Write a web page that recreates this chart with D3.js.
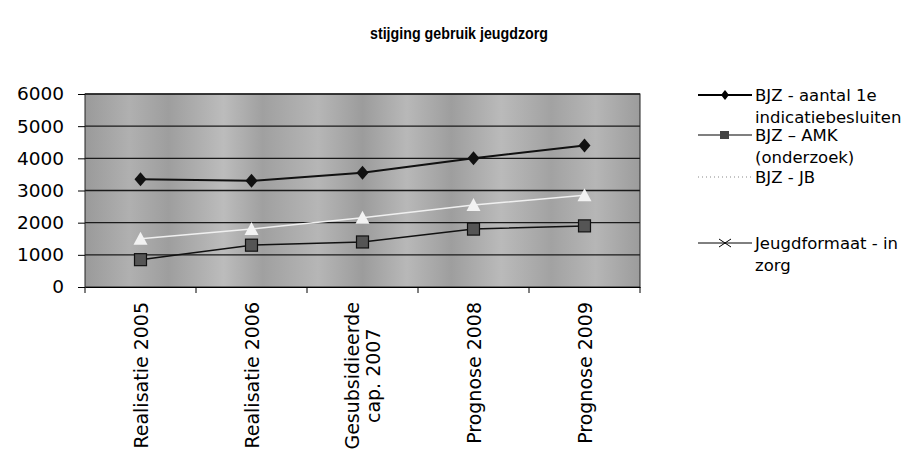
<!DOCTYPE html>
<html><head><meta charset="utf-8">
<script src="https://cdn.jsdelivr.net/npm/d3@7"></script>
<style>body{margin:0;background:#fff}svg{display:block}</style>
</head><body>
<svg id="c" width="916" height="467"></svg>
<script>
const categories = [["Realisatie 2005"],["Realisatie 2006"],["Gesubsidieerde","cap. 2007"],["Prognose 2008"],["Prognose 2009"]];
const bjzAantal = [3350, 3300, 3550, 4000, 4400];
const bjzAmk = [850, 1300, 1400, 1800, 1900];
const bjzJb = [1500, 1800, 2150, 2550, 2850];
const jeugdformaat = [];
const yTicks = [0,1000,2000,3000,4000,5000,6000];
const legendLabels = [["BJZ - aantal  1e","indicatiebesluiten"],["BJZ – AMK","(onderzoek)"],["BJZ - JB"],["Jeugdformaat - in","zorg"]];

const svg = d3.select("#c");
const font = "Liberation Sans, Arial, sans-serif";
const font2 = "DejaVu Sans, sans-serif";
const L=85,R=640,T=94,B=287;
const x = d3.scaleBand().domain(d3.range(categories.length)).range([L,R]);
const y = d3.scaleLinear().domain([0,6000]).range([B,T]);

svg.append("text").attr("x",459).attr("y",39).attr("text-anchor","middle")
  .attr("font-family",font).attr("font-weight","bold").attr("font-size",16)
  .attr("textLength",178).attr("lengthAdjust","spacingAndGlyphs").text("stijging gebruik jeugdzorg");

// plot background
const defs = svg.append("defs");
const g = defs.append("linearGradient").attr("id","bg").attr("x1","0").attr("x2","1").attr("y1","0").attr("y2","0");
const stops=[[0,"#9a9a9a"],[0.08,"#b0b0b0"],[0.15,"#9e9e9e"],[0.25,"#bcbcbc"],[0.32,"#a0a0a0"],[0.42,"#b6b6b6"],[0.5,"#9c9c9c"],[0.58,"#b8b8b8"],[0.66,"#9e9e9e"],[0.75,"#bababa"],[0.84,"#a2a2a2"],[0.92,"#b6b6b6"],[1,"#9c9c9c"]];
stops.forEach(s=>g.append("stop").attr("offset",s[0]).attr("stop-color",s[1]));
svg.append("rect").attr("x",L).attr("y",T).attr("width",R-L).attr("height",B-T).attr("fill","url(#bg)");

// gridlines
svg.append("g").selectAll("line").data(yTicks.slice(1)).join("line")
  .attr("x1",L).attr("x2",R).attr("y1",d=>y(d)).attr("y2",d=>y(d))
  .attr("stroke","#1a1a1a").attr("stroke-width",1.3);
svg.append("rect").attr("x",L).attr("y",T).attr("width",R-L).attr("height",B-T)
  .attr("fill","none").attr("stroke","#222").attr("stroke-width",1);

// axes
const ya = svg.append("g").attr("transform",`translate(${L},0)`)
  .call(d3.axisLeft(y).tickValues(yTicks).tickFormat(d3.format("d")).tickSize(7).tickPadding(14));
ya.select(".domain").remove();
ya.selectAll("text").attr("font-family",font2).attr("font-size",18.5).attr("fill","#000");
ya.selectAll("line").attr("stroke","#000");

const xa = svg.append("g").attr("transform",`translate(0,${B})`)
  .call(d3.axisBottom(x).tickValues([]).tickSizeOuter(0));
xa.select(".domain").attr("stroke","#000");
const edges = d3.range(categories.length+1).map(i=>L+i*x.step());
svg.append("g").selectAll("line").data(edges).join("line")
  .attr("x1",d=>d).attr("x2",d=>d).attr("y1",B).attr("y2",B+6).attr("stroke","#000");

const xl = svg.append("g");
categories.forEach((lines,i)=>{
  const cx = x(i)+x.bandwidth()/2;
  const t = xl.append("text").attr("transform",`translate(${cx},${B+15}) rotate(-90)`)
    .attr("text-anchor",lines.length>1?"middle":"end").attr("font-family",font2).attr("font-size",19);
  lines.forEach((ln,j)=>{
    const off = (j-(lines.length-1)/2)*21+7;
    t.append("tspan").attr("y",off).text(ln);
  });
  if(lines.length>1){
    const w = d3.max(t.selectAll("tspan").nodes(),n=>n.getComputedTextLength());
    t.selectAll("tspan").attr("x",-w/2);
  }
});

// series
const cxp = i=>x(i)+x.bandwidth()/2;
const line = d3.line().x((d,i)=>cxp(i)).y(d=>y(d));
function drawSeries(data,color,width,marker){
  svg.append("path").datum(data).attr("d",line).attr("fill","none").attr("stroke",color).attr("stroke-width",width);
  const gg = svg.append("g");
  data.forEach((v,i)=>marker(gg,cxp(i),y(v)));
}
const diamond=(gg,cx,cy)=>gg.append("path").attr("d",`M${cx},${cy-7}L${cx+6},${cy}L${cx},${cy+7}L${cx-6},${cy}Z`).attr("fill","#111");
const square=(gg,cx,cy)=>gg.append("rect").attr("x",cx-6).attr("y",cy-6).attr("width",12).attr("height",12).attr("fill","#555").attr("stroke","#111").attr("stroke-width",1.2);
const tri=(gg,cx,cy)=>gg.append("path").attr("d",`M${cx},${cy-7}L${cx+7},${cy+6}L${cx-7},${cy+6}Z`).attr("fill","#f2f2f2");
drawSeries(bjzJb,"#f0f0f0",1.5,tri);
drawSeries(bjzAmk,"#111",1.5,square);
drawSeries(bjzAantal,"#111",2,diamond);

// legend
const lg = svg.append("g").attr("font-family",font2).attr("font-size",16.5);
const ly=[95,135,177,243];
ly.forEach((yy,i)=>{
  legendLabels[i].forEach((t,j)=>lg.append("text").attr("x",755).attr("y",yy+6+j*22).text(t));
});
lg.append("line").attr("x1",698).attr("x2",752).attr("y1",ly[0]).attr("y2",ly[0]).attr("stroke","#000").attr("stroke-width",2);
lg.append("path").attr("d",`M725,${ly[0]-5}L729,${ly[0]}L725,${ly[0]+5}L721,${ly[0]}Z`).attr("fill","#000");
lg.append("line").attr("x1",698).attr("x2",752).attr("y1",ly[1]).attr("y2",ly[1]).attr("stroke","#000").attr("stroke-width",1.2);
lg.append("rect").attr("x",720).attr("y",ly[1]-4).attr("width",9).attr("height",8).attr("fill","#444");
lg.append("line").attr("x1",698).attr("x2",752).attr("y1",ly[2]).attr("y2",ly[2]).attr("stroke","#888").attr("stroke-width",1).attr("stroke-dasharray","1,3");
lg.append("line").attr("x1",698).attr("x2",752).attr("y1",ly[3]).attr("y2",ly[3]).attr("stroke","#000").attr("stroke-width",1);
lg.append("path").attr("d",`M719,${ly[3]-4}L725,${ly[3]}L719,${ly[3]+4}M731,${ly[3]-4}L725,${ly[3]}L731,${ly[3]+4}`).attr("fill","none").attr("stroke","#000").attr("stroke-width",1);
</script>
</body></html>
